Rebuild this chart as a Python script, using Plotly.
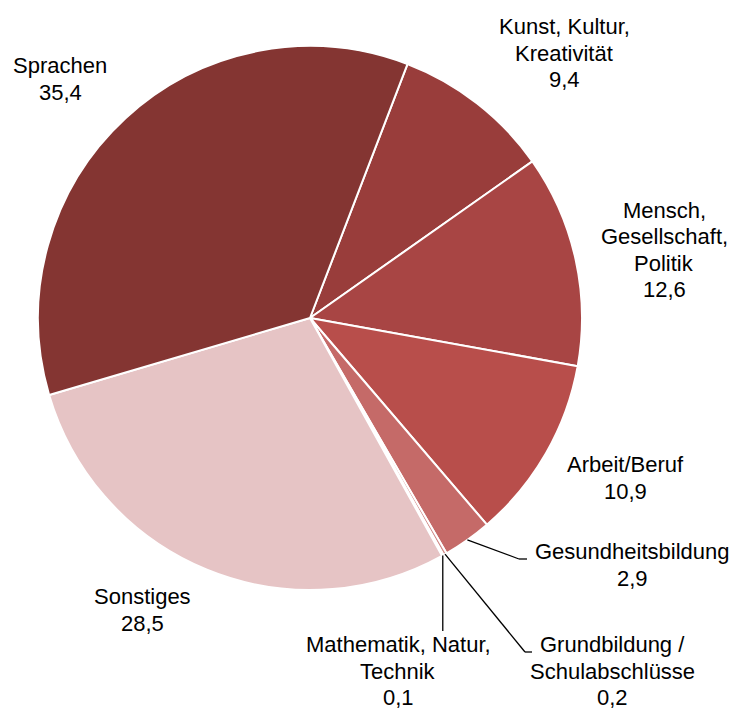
import plotly.graph_objects as go
import math

categories = ["Kunst, Kultur, Kreativität", "Mensch, Gesellschaft, Politik", "Arbeit/Beruf",
              "Gesundheitsbildung", "Grundbildung / Schulabschlüsse", "Mathematik, Natur, Technik",
              "Sonstiges", "Sprachen"]
values = [9.4, 12.6, 10.9, 2.9, 0.2, 0.1, 28.5, 35.4]
label_lines = [["Kunst, Kultur,", "Kreativität", "9,4"],
               ["Mensch,", "Gesellschaft,", "Politik", "12,6"],
               ["Arbeit/Beruf", "10,9"],
               ["Gesundheitsbildung", "2,9"],
               ["Grundbildung /", "Schulabschlüsse", "0,2"],
               ["Mathematik, Natur,", "Technik", "0,1"],
               ["Sonstiges", "28,5"],
               ["Sprachen", "35,4"]]
colors = ["#993d3b", "#a84544", "#b84e4b", "#c56a68", "#d08a88", "#dba6a5", "#e6c4c5", "#843532"]

W, H = 736, 710
cx, cy, R = 310, 318, 272
rotation = 21
LINE = 26.5

# label block centers (pixels)
label_pos = [(564, 53), (664, 250), (625, 478), (632, 565), (612, 671), (398, 671), (142, 610), (60, 79)]

def px(x):
    return x / W

def py(y):
    return 1 - y / H

fig = go.Figure(go.Pie(
    labels=categories, values=values, sort=False, direction="clockwise",
    rotation=rotation, textinfo="none", hoverinfo="label+value",
    marker=dict(colors=colors, line=dict(color="white", width=2)),
    domain=dict(x=[px(cx - R), px(cx + R)], y=[py(cy + R), py(cy - R)]),
    showlegend=False,
))

annotations = []
for (x, y), lines in zip(label_pos, label_lines):
    n = len(lines)
    for k, t in enumerate(lines):
        yy = y + (k - (n - 1) / 2) * LINE
        annotations.append(dict(x=px(x), y=py(yy), xref="paper", yref="paper", text=t,
                                showarrow=False, xanchor="center", yanchor="middle",
                                font=dict(family="Liberation Sans, Arial", size=22, color="#000000")))

# leader lines for small slices, start points from slice mid-angles
total = sum(values)
cum = 0
mids = []
for v in values:
    mids.append(rotation + (cum + v / 2) / total * 360)
    cum += v

def edge(i):
    a = math.radians(mids[i])
    return cx + R * math.sin(a), cy - R * math.cos(a)

shapes = []
def seg(p0, p1):
    shapes.append(dict(type="line", xref="paper", yref="paper",
                       x0=px(p0[0]), y0=py(p0[1]), x1=px(p1[0]), y1=py(p1[1]),
                       line=dict(color="black", width=1.3)))

g = edge(3)
seg(g, (519, 559)); seg((519, 559), (527, 559))
s = edge(4)
seg(s, (525, 652)); seg((525, 652), (532, 652))
m = edge(5)
seg(m, (m[0], 631))

fig.update_layout(width=W, height=H, margin=dict(l=0, r=0, t=0, b=0),
                  paper_bgcolor="white", plot_bgcolor="white",
                  annotations=annotations, shapes=shapes)
fig.write_html("out.html", config={"displayModeBar": False},
               post_script="document.body.style.margin='0';document.body.style.padding='0';document.body.style.overflow='hidden';")
